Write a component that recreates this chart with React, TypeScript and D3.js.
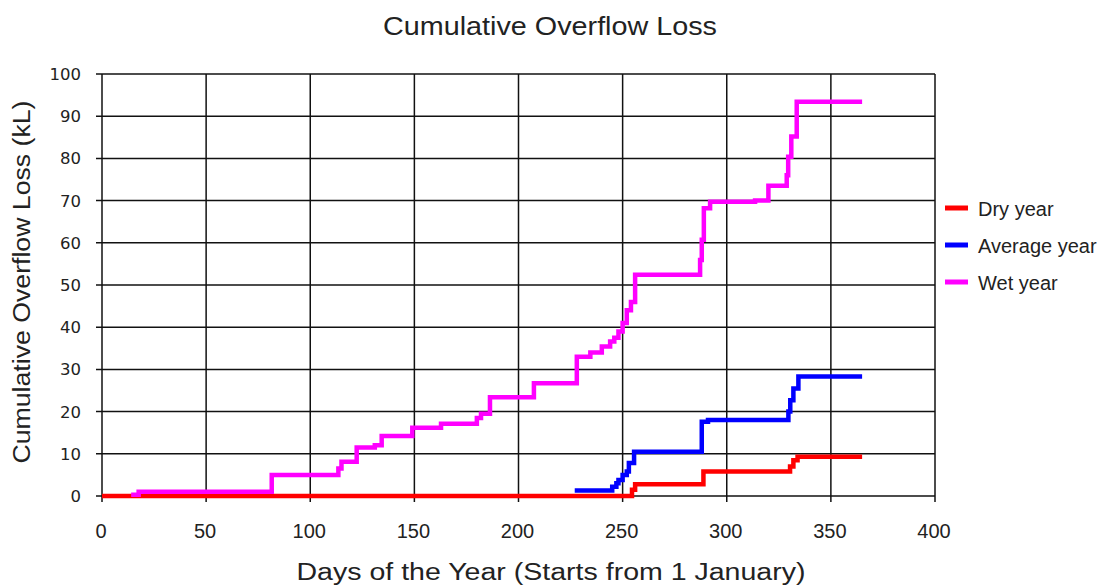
import React from "react";
import * as d3 from "d3";

const xTicks = [0, 50, 100, 150, 200, 250, 300, 350, 400];
const yTicks = [0, 10, 20, 30, 40, 50, 60, 70, 80, 90, 100];

const seriesNames = ["Dry year", "Average year", "Wet year"];
const seriesColors = ["#FF0000", "#0000FF", "#FF00FF"];

// [day, cumulative kL], step-after
const dryYear: [number, number][] = [
  [0, 0], [254.5, 1.5], [256, 2.8], [288.8, 5.8], [330.4, 7.0], [332, 8.5], [334, 9.3], [365, 9.3],
];
const averageYear: [number, number][] = [
  [227, 1.3], [245, 2.2], [247, 3.0], [248, 3.8], [250, 5.0], [252, 5.8], [253, 7.8], [255.5, 10.5],
  [288, 17.6], [291, 18.0], [329.6, 20.0], [330.5, 22.7], [332, 25.5], [334.4, 28.3], [365, 28.3],
];
const wetYear: [number, number][] = [
  [14, 0.3], [17.6, 1.0], [81.5, 5.0], [113.5, 6.5], [115, 8.1], [122.3, 11.5], [131, 12.0], [134.3, 14.2],
  [149, 16.2], [162.8, 17.1], [180, 18.5], [182, 19.5], [186.3, 23.4], [207.4, 26.7], [228, 33.0],
  [234.5, 34.0], [240, 35.4], [244, 36.6], [246, 37.5], [248, 39.0], [250, 41.0], [252, 44.0],
  [254, 46.0], [256, 52.4], [287.2, 55.9], [288, 60.7], [289, 68.2], [292, 69.7], [313.6, 70.0],
  [320, 73.5], [328.8, 76.0], [329.5, 80.4], [331, 85.2], [333.6, 93.4], [365, 93.4],
];
const seriesData = [dryYear, averageYear, wetYear];

export default function App() {
  const W = 1108, H = 585;
  const left = 102, right = 935, top = 74, bottom = 496;
  const x = d3.scaleLinear().domain([0, 400]).range([left, right]);
  const y = d3.scaleLinear().domain([0, 100]).range([bottom, top]);
  const line = d3.line<[number, number]>()
    .x((d) => x(d[0]))
    .y((d) => y(d[1]))
    .curve(d3.curveStepAfter);
  const font = "'Liberation Sans', Arial, sans-serif";

  return (
    <svg width={W} height={H} style={{ position: "absolute", left: 0, top: 0, background: "#fff" }} fontFamily={font}>
      <rect x={0} y={0} width={W} height={H} fill="#fff" />
      <text x={550} y={35} textAnchor="middle" fontSize={25} fill="#222" textLength={334} lengthAdjust="spacingAndGlyphs">
        Cumulative Overflow Loss
      </text>
      {/* grid */}
      {yTicks.map((t) => (
        <line key={"gy" + t} x1={left - 6} x2={right} y1={y(t)} y2={y(t)} stroke="#111" strokeWidth={1.5} />
      ))}
      {xTicks.map((t) => (
        <line key={"gx" + t} x1={x(t)} x2={x(t)} y1={top} y2={bottom + 6} stroke="#111" strokeWidth={1.5} />
      ))}
      {yTicks.map((t) => (
        <text key={"ly" + t} x={81} y={y(t) + 6} textAnchor="end" fontSize={16.5} fill="#222" fontFamily="'DejaVu Sans', sans-serif">{t}</text>
      ))}
      {xTicks.map((t) => (
        <text key={"lx" + t} x={x(t) - 1} y={538} textAnchor="middle" fontSize={20} fill="#222">{t}</text>
      ))}
      <text x={551} y={580} textAnchor="middle" fontSize={23} fill="#222" textLength={509} lengthAdjust="spacingAndGlyphs">
        Days of the Year (Starts from 1 January)
      </text>
      <text transform="translate(30,282) rotate(-90)" textAnchor="middle" fontSize={23} fill="#222" textLength={363} lengthAdjust="spacingAndGlyphs">
        Cumulative Overflow Loss (kL)
      </text>
      {seriesData.map((d, i) => (
        <path key={"s" + i} d={line(d) || ""} fill="none" stroke={seriesColors[i]} strokeWidth={4.5} />
      ))}
      {seriesNames.map((n, i) => (
        <g key={"lg" + i}>
          <line x1={945} x2={968} y1={208 + i * 37} y2={208 + i * 37} stroke={seriesColors[i]} strokeWidth={5} />
          <text x={978} y={216 + i * 37} fontSize={20} fill="#222">{n}</text>
        </g>
      ))}
    </svg>
  );
}
